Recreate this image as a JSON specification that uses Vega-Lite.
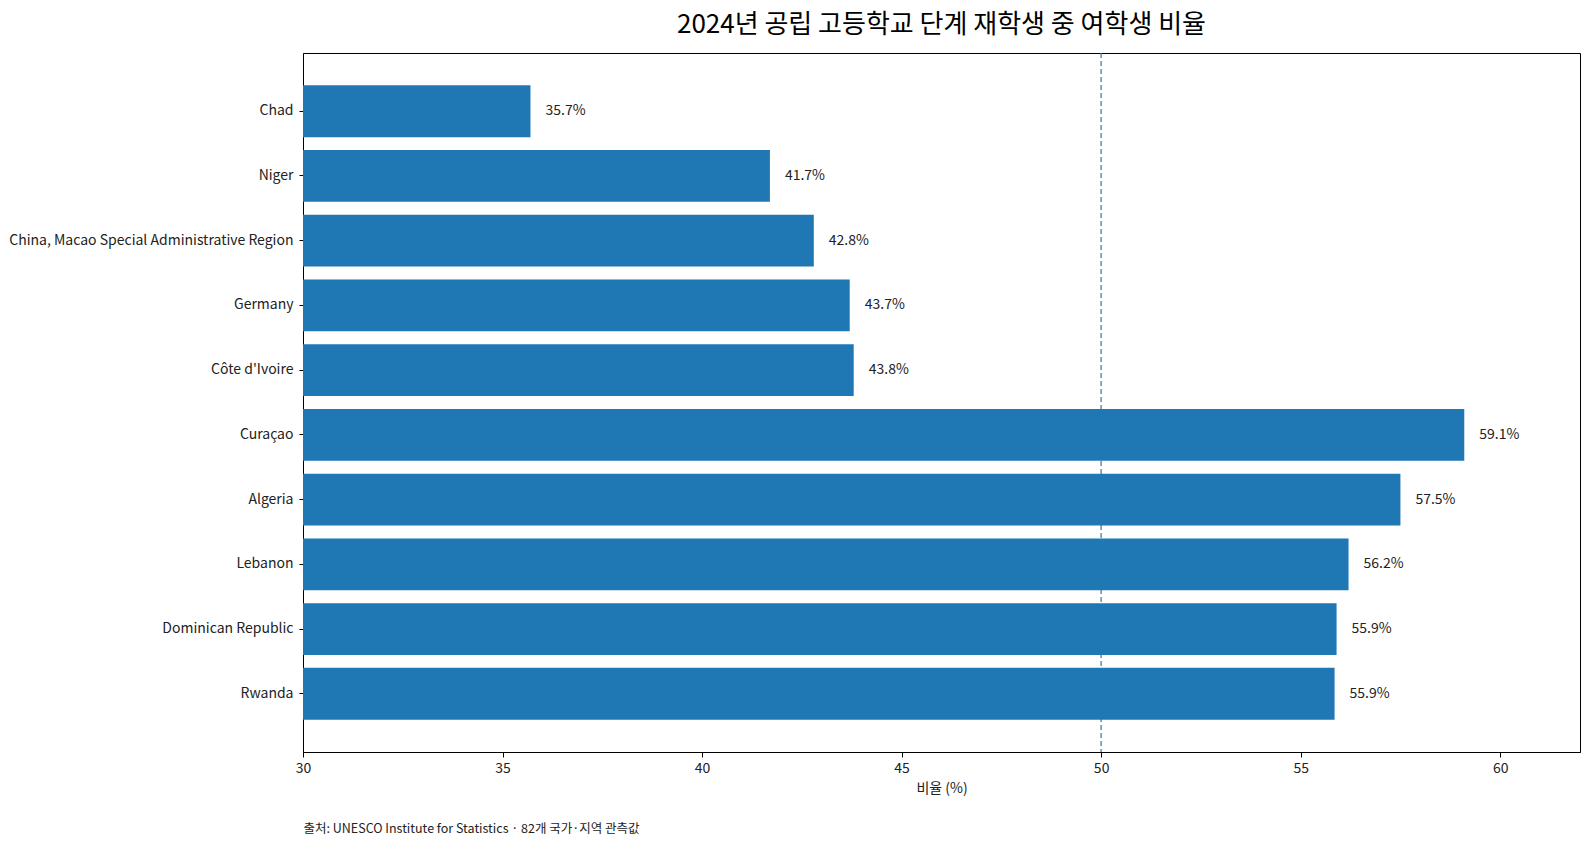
{
  "$schema": "https://vega.github.io/schema/vega-lite/v6.json",
  "description": "Share of female students among public upper-secondary enrolment, 2024.",
  "autosize": "none",
  "width": 1277,
  "height": 699,
  "padding": {"left": 303, "top": 53, "right": 9, "bottom": 93},
  "background": "white",
  "title": {
    "text": "2024년 공립 고등학교 단계 재학생 중 여학생 비율",
    "font": "Noto Sans CJK KR",
    "fontSize": 26,
    "fontWeight": "normal",
    "color": "#000000",
    "anchor": "middle",
    "offset": 14
  },
  "data": {
    "values": [
      {"country": "Chad", "share": 35.7, "label": "35.7%"},
      {"country": "Niger", "share": 41.7, "label": "41.7%"},
      {"country": "China, Macao Special Administrative Region", "share": 42.8, "label": "42.8%"},
      {"country": "Germany", "share": 43.7, "label": "43.7%"},
      {"country": "Côte d'Ivoire", "share": 43.8, "label": "43.8%"},
      {"country": "Curaçao", "share": 59.1, "label": "59.1%"},
      {"country": "Algeria", "share": 57.5, "label": "57.5%"},
      {"country": "Lebanon", "share": 56.2, "label": "56.2%"},
      {"country": "Dominican Republic", "share": 55.9, "label": "55.9%"},
      {"country": "Rwanda", "share": 55.85, "label": "55.9%"}
    ]
  },
  "layer": [
    {
      "data": {"values": [{"ref": 50}]},
      "mark": {"type": "rule", "color": "#1f77b4", "strokeWidth": 1.3, "strokeDash": [5, 3], "opacity": 0.9},
      "encoding": {
        "x": {"field": "ref", "type": "quantitative", "axis": null}
      }
    },
    {
      "mark": {"type": "bar", "color": "#1f77b4", "clip": true},
      "encoding": {
        "y": {
          "field": "country",
          "type": "nominal",
          "sort": null,
          "title": null,
          "scale": {"paddingInner": 0.2, "paddingOuter": 0.5},
          "axis": {"labelFontSize": 14, "labelPadding": 6, "tickSize": 4, "labelLimit": 400}
        },
        "x": {
          "field": "share",
          "type": "quantitative",
          "title": "비율 (%)",
          "scale": {"domain": [30, 62], "nice": false, "zero": false},
          "axis": {"orient": "bottom", "values": [30, 35, 40, 45, 50, 55, 60], "labelFlush": false, "labelPadding": 4, "titlePadding": 6}
        }
      }
    },
    {
      "mark": {"type": "text", "align": "left", "baseline": "middle", "dx": 15, "fontSize": 14, "font": "Noto Sans CJK KR", "color": "#222222"},
      "encoding": {
        "y": {"field": "country", "type": "nominal", "sort": null},
        "x": {
          "field": "share",
          "type": "quantitative",
          "axis": {
            "orient": "bottom",
            "title": "출처: UNESCO Institute for Statistics · 82개 국가·지역 관측값",
            "labels": false,
            "ticks": false,
            "domain": false,
            "grid": false,
            "titleAnchor": "start",
            "titleAlign": "left",
            "titleBaseline": "middle",
            "titleX": 0,
            "titleY": 76,
            "titleFontSize": 12.5,
            "titleFontWeight": "normal"
          }
        },
        "text": {"field": "label"}
      }
    }
  ],
  "resolve": {"axis": {"x": "independent"}},
  "config": {
    "font": "Noto Sans CJK KR",
    "view": {"stroke": "#000000", "strokeWidth": 1},
    "axis": {
      "grid": false,
      "domainColor": "#000000",
      "tickColor": "#000000",
      "labelColor": "#222222",
      "labelFont": "Noto Sans CJK KR",
      "labelFontSize": 14,
      "titleFont": "Noto Sans CJK KR",
      "titleFontSize": 14,
      "titleFontWeight": "normal",
      "titleColor": "#222222"
    }
  }
}
